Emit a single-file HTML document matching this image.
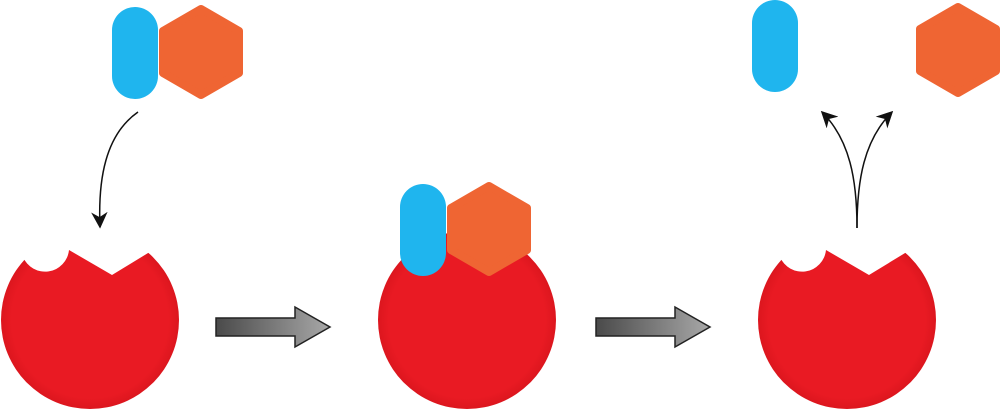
<!DOCTYPE html>
<html><head><style>html,body{margin:0;padding:0;background:#fff}svg{display:block}</style></head>
<body>
<svg width="1000" height="409" viewBox="0 0 1000 409" xmlns="http://www.w3.org/2000/svg">
<defs>
<radialGradient id="rg" cx="50%" cy="50%" r="50%"><stop offset="88%" stop-color="#e91a23"/><stop offset="100%" stop-color="#dc161e"/></radialGradient>
<linearGradient id="ag" x1="0" y1="0" x2="1" y2="0"><stop offset="0" stop-color="#4a4a4a"/><stop offset="1" stop-color="#a8a8a8"/></linearGradient>
<g id="hex"><polygon points="0,-43 38,-21 38,21 0,43 -38,21 -38,-21" fill="#ef6533" stroke="#ef6533" stroke-width="8" stroke-linejoin="round"/></g>
<g id="pill"><rect x="0" y="0" width="46" height="92" rx="23" fill="#1fb5ee"/></g>
<g id="garrow"><polygon points="0,-9 79,-9 79,-20 114,0 79,20 79,9 0,9" fill="url(#ag)" stroke="#222" stroke-width="1.5"/></g>
<path id="cut" d="M-5,220 L-5,257 L23,257 A24,24 0 0 0 69,250 L112,275 L153,250 L190,220 Z" fill="#fff"/>
<marker id="mk" viewBox="0 0 10 10" refX="9" refY="5" markerWidth="11" markerHeight="11" orient="auto"><path d="M0,0 L10,5 L0,10 L3,5 z" fill="#111"/></marker>
</defs>
<!-- left -->
<use href="#pill" x="112" y="7"/>
<use href="#hex" x="201" y="52"/>
<circle cx="90" cy="320" r="89" fill="url(#rg)"/>
<use href="#cut" x="0" y="0"/>
<path d="M138,112 C105,135 98,180 100,227" fill="none" stroke="#111" stroke-width="1.5" marker-end="url(#mk)"/>
<use href="#garrow" x="216" y="327"/>
<!-- middle -->
<circle cx="467" cy="320" r="89" fill="url(#rg)"/>
<use href="#hex" x="489" y="229"/>
<use href="#pill" x="400" y="184"/>
<use href="#garrow" x="596" y="327"/>
<!-- right -->
<use href="#pill" x="752" y="0"/>
<use href="#hex" x="958" y="50"/>
<circle cx="847" cy="320" r="89" fill="url(#rg)"/>
<use href="#cut" x="757" y="0"/>
<path d="M857,228 C857,180 850,140 822,112" fill="none" stroke="#111" stroke-width="1.5" marker-end="url(#mk)"/>
<path d="M857,228 C857,180 864,140 892,112" fill="none" stroke="#111" stroke-width="1.5" marker-end="url(#mk)"/>
</svg>
</body></html>
